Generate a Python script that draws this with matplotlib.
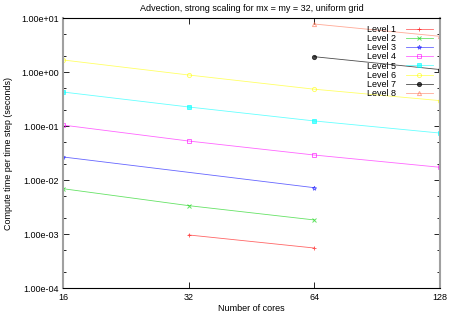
import matplotlib
matplotlib.use("Agg")
import matplotlib.pyplot as plt
from matplotlib.ticker import FixedLocator, LogLocator, NullFormatter, NullLocator

plt.rcParams['font.family'] = ['Liberation Sans', 'DejaVu Sans']
plt.rcParams['font.size'] = 6.5

# Datos
cores_l1 = [32, 64]
time_l1 = [9.6e-4, 5.5e-4]
cores_l2 = [16, 32, 64]
time_l2 = [6.9e-3, 3.35e-3, 1.82e-3]
cores_l3 = [16, 64]
time_l3 = [2.67e-2, 7.2e-3]
cores_l4 = [16, 32, 64, 128]
time_l4 = [0.104, 0.0527, 0.029, 0.0172]
cores_l5 = [16, 32, 64, 128]
time_l5 = [0.426, 0.225, 0.124, 0.074]
cores_l6 = [16, 32, 64, 128]
time_l6 = [1.67, 0.88, 0.48, 0.295]
cores_l7 = [64, 128]
time_l7 = [1.92, 1.11]
cores_l8 = [64, 128]
time_l8 = [7.74, 4.58]

xticks = [16, 32, 64, 128]
yticks = [1e-4, 1e-3, 1e-2, 1e-1, 1e0, 1e1]

series = [
    ("Level 1", cores_l1, time_l1, "#ff0000", "+", "none"),
    ("Level 2", cores_l2, time_l2, "#00d000", "x", "none"),
    ("Level 3", cores_l3, time_l3, "#0000ff", "*", "none"),
    ("Level 4", cores_l4, time_l4, "#ff00ff", "s", "none"),
    ("Level 5", cores_l5, time_l5, "#00ffff", "s", "full"),
    ("Level 6", cores_l6, time_l6, "#ffff00", "o", "none"),
    ("Level 7", cores_l7, time_l7, "#000000", "o", "full"),
    ("Level 8", cores_l8, time_l8, "#ff7050", "^", "none"),
]

fig = plt.figure(figsize=(4.49, 3.15), dpi=100)
ax = fig.add_axes([63 / 449, 1 - 288 / 315, 377 / 449, 270 / 315])

for nombre, x, y, color, m, fill in series:
    ax.plot(x, y, color=color, lw=0.6, alpha=0.6 if color != "#000000" else 0.7,
            marker=m, markersize=3, fillstyle=fill, markeredgewidth=0.7,
            label=nombre)

ax.set_xscale("log", base=2)
ax.set_yscale("log")
ax.set_xlim(16, 128)
ax.set_ylim(1e-4, 1e1)
ax.xaxis.set_major_locator(FixedLocator(xticks))
ax.xaxis.set_minor_locator(NullLocator())
ax.set_xticklabels([str(v) for v in xticks])
ax.yaxis.set_major_locator(FixedLocator(yticks))
ax.yaxis.set_minor_locator(LogLocator(base=10, subs=(2, 5)))
ax.yaxis.set_minor_formatter(NullFormatter())
ax.set_yticklabels(["%.2e" % v for v in yticks])
ax.tick_params(which="both", direction="in", top=True, right=True)
ax.tick_params(axis="x", pad=3.5)
ax.tick_params(axis="y", pad=3)
ax.tick_params(which="major", length=4, width=0.6)
ax.tick_params(which="minor", length=2, width=0.6)

ax.spines["left"].set_color("#a0a0a0")
ax.spines["left"].set_linewidth(1.5)
ax.spines["right"].set_color("#a0a0a0")
ax.spines["right"].set_linewidth(1.5)
ax.spines["bottom"].set_linewidth(0.8)
ax.spines["top"].set_linewidth(0.8)

ax.set_title("Advection, strong scaling for mx = my = 32, uniform grid", fontsize=6.5, pad=5)
ax.set_xlabel("Number of cores", labelpad=1.5)
ax.set_ylabel("Compute time per time step (seconds)", labelpad=6)

ax.legend(loc="upper right", frameon=False, markerfirst=False, handlelength=3.0,
          labelspacing=0.01, borderaxespad=0.4, handletextpad=1.1, fontsize=6.5)

fig.savefig("out.png", dpi=100)
